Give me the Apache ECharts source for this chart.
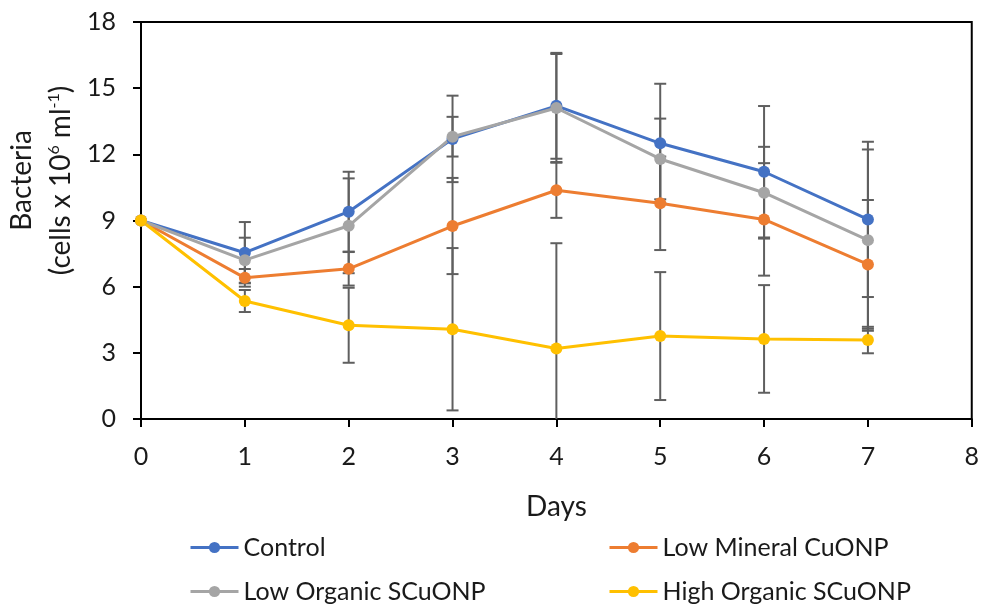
<!DOCTYPE html>
<html>
<head>
<meta charset="utf-8">
<script src="https://cdn.jsdelivr.net/npm/echarts@6/dist/echarts.min.js"></script>
<style>
  html, body { margin: 0; padding: 0; background: #fff; }
  #chart { width: 982px; height: 609px; }
</style>
</head>
<body>
<div id="chart"></div>
<script>
// values (cells x 10^6 ml^-1)
const days = [0, 1, 2, 3, 4, 5, 6, 7];
const control = [9.0, 7.54, 9.40, 12.70, 14.20, 12.50, 11.21, 9.05];
const controlErr = [0, 1.39, 1.81, 1.96, 2.40, 2.70, 2.98, 3.52];
const lowMineral = [9.0, 6.40, 6.81, 8.75, 10.37, 9.78, 9.05, 7.01];
const lowMineralErr = [0, 0.40, 0.76, 2.18, 1.25, 2.12, 2.55, 2.92];
const lowOrganic = [9.0, 7.20, 8.76, 12.80, 14.10, 11.79, 10.26, 8.11];
const lowOrganicErr = [0, 1.02, 2.15, 0.90, 2.45, 1.83, 2.08, 4.11];
const highOrganic = [9.0, 5.35, 4.25, 4.07, 3.20, 3.76, 3.63, 3.58];
const highOrganicErr = [0, 0.50, 1.70, 3.68, 4.77, 2.90, 2.44, 0.60];

const seriesNames = ['Control', 'Low Mineral CuONP', 'Low Organic SCuONP', 'High Organic SCuONP'];
const colors = ['#4472C4', '#ED7D31', '#A5A5A5', '#FFC000'];
const font = 'Lato, "Open Sans", sans-serif';

const chart = echarts.init(document.getElementById('chart'));

const lineSeries = (name, vals, color) => ({
    name,
    type: 'line',
    z: 3,
    symbol: 'circle',
    symbolSize: 12,
    itemStyle: { color },
    lineStyle: { color, width: 3 },
    data: days.map((d, i) => [d, vals[i]])
});

// 误差线 (gray, drawn under the lines)
const errData = [];
[[control, controlErr], [lowMineral, lowMineralErr], [lowOrganic, lowOrganicErr], [highOrganic, highOrganicErr]]
    .forEach(([vals, errs]) => {
        days.forEach((d, i) => {
            if (errs[i] > 0) errData.push([d, vals[i] - errs[i], vals[i] + errs[i]]);
        });
    });

const errSeries = {
    type: 'custom',
    z: 2,
    clip: true,
    silent: true,
    renderItem: (params, api) => {
        const lo = api.coord([api.value(0), api.value(1)]);
        const hi = api.coord([api.value(0), api.value(2)]);
        const w = 6;
        const style = { stroke: '#5f5f5f', lineWidth: 2 };
        return {
            type: 'group',
            children: [
                { type: 'line', shape: { x1: lo[0], y1: lo[1], x2: hi[0], y2: hi[1] }, style },
                { type: 'line', shape: { x1: hi[0] - w, y1: hi[1], x2: hi[0] + w, y2: hi[1] }, style },
                { type: 'line', shape: { x1: lo[0] - w, y1: lo[1], x2: lo[0] + w, y2: lo[1] }, style }
            ]
        };
    },
    encode: { x: 0, y: [1, 2] },
    data: errData
};

const legendPos = [[189, 535], [608, 535], [189, 579], [608, 579]];

const option = {
    animation: false,
    textStyle: { fontFamily: font },
    grid: { left: 141, top: 22, right: 7, height: 397, show: true, borderColor: '#000', borderWidth: 2 },
    legend: seriesNames.map((n, i) => ({
        data: [n],
        left: legendPos[i][0],
        top: legendPos[i][1],
        padding: 0,
        itemWidth: 48,
        itemHeight: 14,
        lineStyle: { width: 3 },
        textStyle: { fontSize: 25, color: '#1a1a1a', fontFamily: font }
    })),
    xAxis: {
        type: 'value',
        min: 0,
        max: 8,
        interval: 1,
        name: 'Days',
        nameLocation: 'middle',
        nameGap: 74,
        nameTextStyle: { fontSize: 28, color: '#1a1a1a' },
        axisLine: { lineStyle: { color: '#000', width: 2 } },
        axisTick: { show: true, length: 8, lineStyle: { color: '#000', width: 2 } },
        axisLabel: { fontSize: 25, color: '#1a1a1a', margin: 25 },
        splitLine: { show: false }
    },
    yAxis: {
        type: 'value',
        min: 0,
        max: 18,
        interval: 3,
        name: '{a|Bacteria}\n{a|(cells x 10}{sup|6}{a| ml}{sup|-1}{a|)}',
        nameLocation: 'middle',
        nameRotate: 90,
        nameGap: 58,
        nameTextStyle: {
            padding: [0, 0, 0, 80],
            rich: {
                a: { fontSize: 28, color: '#1a1a1a', fontFamily: font, lineHeight: 39 },
                sup: { fontSize: 16, color: '#1a1a1a', fontFamily: font, lineHeight: 39, padding: [0, 0, 14, 0] }
            }
        },
        axisLine: { show: true, lineStyle: { color: '#000', width: 2 } },
        axisTick: { show: true, length: 8, lineStyle: { color: '#000', width: 2 } },
        axisLabel: { fontSize: 25, color: '#1a1a1a', margin: 25 },
        splitLine: { show: false }
    },
    series: [
        errSeries,
        lineSeries(seriesNames[0], control, colors[0]),
        lineSeries(seriesNames[1], lowMineral, colors[1]),
        lineSeries(seriesNames[2], lowOrganic, colors[2]),
        lineSeries(seriesNames[3], highOrganic, colors[3])
    ]
};

chart.setOption(option);
</script>
</body>
</html>
